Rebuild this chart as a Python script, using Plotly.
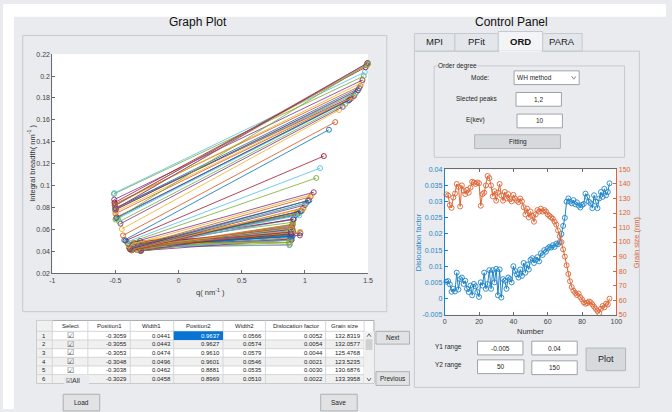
import plotly.graph_objects as go

W, H = 672, 412
FONT = "Liberation Sans, Arial, sans-serif"

# ---------------- fitted peak table (one row per pattern) ----------------
position1 = [-0.3059, -0.3055, -0.3053, -0.3048, -0.3038, -0.3029, -0.302, -0.300, -0.299, -0.297,
             -0.296, -0.305, -0.310, -0.312, -0.308, -0.303, -0.301, -0.298, -0.296, -0.300,
             -0.315, -0.318, -0.306, -0.302, -0.300, -0.297, -0.309, -0.311, -0.303, -0.306,
             -0.300, -0.298, -0.305, -0.314, -0.320, -0.322, -0.325, -0.328, -0.318, -0.330,
             -0.333, -0.326, -0.335, -0.340, -0.338, -0.345, -0.350, -0.348, -0.355, -0.352,
             -0.358, -0.360, -0.356, -0.362, -0.365, -0.368, -0.370, -0.372, -0.375, -0.378,
             -0.380, -0.383, -0.386, -0.390, -0.393, -0.396, -0.400, -0.405, -0.410, -0.420,
             -0.430, -0.440, -0.450, -0.460, -0.470, -0.480, -0.490, -0.495, -0.500, -0.500,
             -0.502, -0.505, -0.503, -0.498, -0.500, -0.505, -0.508, -0.510, -0.512, -0.510,
             -0.508, -0.505, -0.502, -0.500, -0.498, -0.500]
width1 = [0.0441, 0.0443, 0.0474, 0.0496, 0.0462, 0.0458, 0.0403, 0.0439, 0.0471, 0.0415,
          0.0438, 0.0441, 0.0444, 0.0457, 0.0434, 0.0438, 0.0420, 0.0427, 0.0434, 0.0444,
          0.0473, 0.0448, 0.0422, 0.0435, 0.0406, 0.0403, 0.0434, 0.0426, 0.0437, 0.0435,
          0.0463, 0.0408, 0.0474, 0.0453, 0.0434, 0.0465, 0.0432, 0.0448, 0.0461, 0.0411,
          0.0429, 0.0442, 0.0451, 0.0425, 0.0446, 0.0435, 0.0475, 0.0441, 0.0476, 0.0439,
          0.0447, 0.0476, 0.0447, 0.0427, 0.0440, 0.0413, 0.0424, 0.0409, 0.0416, 0.0417,
          0.0417, 0.0422, 0.0421, 0.0433, 0.0434, 0.0456, 0.0471, 0.0474, 0.0486, 0.0499,
          0.0503, 0.0546, 0.0604, 0.0653, 0.0672, 0.0700, 0.0712, 0.0703, 0.0745, 0.0763,
          0.0795, 0.0781, 0.0782, 0.0781, 0.0794, 0.0834, 0.0823, 0.0873, 0.0924, 0.0932,
          0.0845, 0.0820, 0.0818, 0.0789, 0.0790, 0.0691]
position2 = [0.9637, 0.9627, 0.9610, 0.9601, 0.8881, 0.8969, 0.905, 0.892, 0.901, 0.898,
             0.903, 0.884, 0.887, 0.893, 0.889, 0.879, 0.882, 0.886, 0.880, 0.877,
             0.891, 0.895, 0.900, 0.887, 0.884, 0.897, 0.883, 0.894, 0.889, 0.902,
             0.876, 0.899, 0.874, 0.893, 0.890, 0.882, 0.891, 0.896, 0.888, 0.905,
             0.900, 0.894, 0.887, 0.899, 0.893, 0.910, 0.905, 0.915, 0.908, 0.925,
             0.935, 0.930, 0.940, 0.950, 0.955, 0.965, 0.975, 0.985, 0.990, 1.000,
             1.010, 1.015, 1.025, 1.035, 1.045, 1.055, 1.070, 1.090, 1.120, 1.150,
             1.190, 1.240, 1.270, 1.300, 1.320, 1.340, 1.350, 1.360, 1.370, 1.380,
             1.390, 1.400, 1.410, 1.420, 1.430, 1.440, 1.450, 1.456, 1.466, 1.474,
             1.480, 1.488, 1.492, 1.495, 1.497, 1.500]
width2 = [0.0566, 0.0574, 0.0579, 0.0546, 0.0535, 0.0510, 0.0586, 0.0503, 0.0607, 0.0563,
          0.0541, 0.0565, 0.0513, 0.0503, 0.0525, 0.0461, 0.0521, 0.0513, 0.0479, 0.0456,
          0.0587, 0.0540, 0.0606, 0.0503, 0.0507, 0.0586, 0.0502, 0.0627, 0.0550, 0.0647,
          0.0486, 0.0603, 0.0481, 0.0591, 0.0560, 0.0534, 0.0582, 0.0587, 0.0575, 0.0646,
          0.0629, 0.0616, 0.0602, 0.0637, 0.0610, 0.0697, 0.0666, 0.0693, 0.0692, 0.0730,
          0.0755, 0.0745, 0.0742, 0.0746, 0.0728, 0.0768, 0.0769, 0.0796, 0.0792, 0.0823,
          0.0840, 0.0842, 0.0863, 0.0866, 0.0899, 0.0918, 0.0940, 0.1070, 0.1160, 0.1270,
          0.1510, 0.1580, 0.1690, 0.1720, 0.1745, 0.1770, 0.1780, 0.1790, 0.1800, 0.1810,
          0.1820, 0.1840, 0.1855, 0.1870, 0.1890, 0.1910, 0.1940, 0.1964, 0.2000, 0.2036,
          0.2080, 0.2100, 0.2115, 0.2105, 0.2120, 0.2110]
dislocation_factor = [0.0052, 0.0054, 0.0044, 0.0021, 0.0030, 0.0022, 0.0080, 0.0028, 0.0060, 0.0065,
                      0.0045, 0.0055, 0.0030, 0.0020, 0.0040, 0.0010, 0.0045, 0.0038, 0.0020, 0.0005,
                      0.0050, 0.0040, 0.0080, 0.0030, 0.0045, 0.0088, 0.0030, 0.0088, 0.0050, 0.0092,
                      0.0010, 0.0090, 0.0003, 0.0060, 0.0055, 0.0030, 0.0065, 0.0060, 0.0050, 0.0100,
                      0.0085, 0.0075, 0.0065, 0.0090, 0.0070, 0.0110, 0.0080, 0.0105, 0.0090, 0.0120,
                      0.0125, 0.0110, 0.0120, 0.0128, 0.0115, 0.0140, 0.0135, 0.0150, 0.0145, 0.0155,
                      0.0160, 0.0158, 0.0165, 0.0160, 0.0170, 0.0168, 0.0175, 0.0200, 0.0225, 0.0250,
                      0.0300, 0.0310, 0.0300, 0.0295, 0.0305, 0.0292, 0.0298, 0.0288, 0.0282, 0.0290,
                      0.0293, 0.0325, 0.0315, 0.0300, 0.0295, 0.0280, 0.0320, 0.0300, 0.0280, 0.0310,
                      0.0330, 0.0315, 0.0340, 0.0320, 0.0330, 0.0357]
grain_size = [132.8319, 132.0577, 125.4768, 123.5235, 130.6876, 133.3958, 140.0, 138.0, 124.5, 139.0,
              135.5, 133.0, 136.0, 134.0, 137.5, 141.5, 141.0, 140.0, 141.0, 140.5,
              125.0, 133.0, 134.0, 139.0, 145.5, 144.0, 139.0, 131.5, 135.0, 128.5,
              134.0, 140.0, 132.0, 128.5, 134.5, 130.0, 133.0, 129.5, 128.0, 132.5,
              130.0, 128.5, 127.5, 130.0, 128.0, 124.0, 119.0, 123.0, 117.0, 121.0,
              118.0, 114.0, 119.0, 122.0, 121.0, 123.0, 121.0, 122.0, 121.0, 119.0,
              118.0, 117.0, 116.0, 114.0, 112.0, 108.0, 104.0, 100.0, 95.0, 90.0,
              84.0, 78.0, 73.0, 69.0, 66.5, 65.0, 63.5, 64.5, 62.0, 60.5,
              58.5, 57.5, 58.0, 59.0, 58.5, 57.0, 55.5, 54.0, 52.5, 51.0,
              54.0, 56.0, 55.0, 57.5, 57.0, 61.0]
sample_number = list(range(1, len(grain_size) + 1))

# ---------------- ticks and labels ----------------
q_ticks = [-1, -0.5, 0, 0.5, 1, 1.5]
q_tick_text = ["-1", "-0.5", "0", "0.5", "1", "1.5"]
breadth_ticks = [0.02, 0.04, 0.06, 0.08, 0.10, 0.12, 0.14, 0.16, 0.18, 0.20, 0.22]
breadth_tick_text = ["0.02", "0.04", "0.06", "0.08", "0.1", "0.12", "0.14", "0.16", "0.18", "0.2", "0.22"]
number_ticks = [0, 20, 40, 60, 80, 100]
dislocation_ticks = [-0.005, 0, 0.005, 0.01, 0.015, 0.02, 0.025, 0.03, 0.035, 0.04]
dislocation_tick_text = ["-0.005", "0", "0.005", "0.01", "0.015", "0.02", "0.025", "0.03", "0.035", "0.04"]
grain_ticks = [50, 60, 70, 80, 90, 100, 110, 120, 130, 140, 150]

table_headers = ["Select", "Position1", "Width1", "Position2", "Width2", "Dislocation factor", "Grain size"]
tab_names = ["MPI", "PFit", "ORD", "PARA"]

LINE_COLORS = ["#0072BD", "#D95319", "#EDB120", "#7E2F8E", "#77AC30", "#4DBEEE", "#A2142F"]
BLUE = "#1f84c6"
ORANGE = "#dc6436"
BG = "#e9ebee"
BORDER = "#c6cacf"
TXT = "#1e1e1e"
AXIS = "#6b6b6b"


def X(px):
    return px / W


def Y(py):
    return 1 - py / H


shapes = []
annotations = []


def box(x0, y0, x1, y1, fill=None, line=None, width=1):
    shapes.append(dict(type="rect", xref="paper", yref="paper",
                       x0=X(x0), x1=X(x1), y0=Y(y1), y1=Y(y0),
                       fillcolor=fill or "rgba(0,0,0,0)",
                       line=dict(color=line or "rgba(0,0,0,0)", width=width if line else 0),
                       layer="below"))


def hline(x0, x1, y, color=BORDER, width=1):
    shapes.append(dict(type="line", xref="paper", yref="paper", x0=X(x0), x1=X(x1),
                       y0=Y(y), y1=Y(y), line=dict(color=color, width=width), layer="below"))


def vline(x, y0, y1, color=BORDER, width=1):
    shapes.append(dict(type="line", xref="paper", yref="paper", x0=X(x), x1=X(x),
                       y0=Y(y0), y1=Y(y1), line=dict(color=color, width=width), layer="below"))


def chevron(xc, yc, half=2.5, down=True, color="#777"):
    d = 1.5 if down else -1.5
    path = (f"M {X(xc - half)},{Y(yc - d)} L {X(xc)},{Y(yc + d)} "
            f"L {X(xc + half)},{Y(yc - d)}")
    shapes.append(dict(type="path", xref="paper", yref="paper", path=path,
                       line=dict(color=color, width=1), layer="above"))


def label(x, y, text, size=7, color=TXT, xanchor="center", angle=0, bg=None):
    ann = dict(x=X(x), y=Y(y), xref="paper", yref="paper", text=text, showarrow=False,
               xanchor=xanchor, yanchor="middle", textangle=angle,
               font=dict(size=size, color=color, family=FONT), borderpad=0)
    if bg:
        ann["bgcolor"] = bg
    annotations.append(ann)


fig = go.Figure()

# ---------------- Williamson-Hall lines ----------------
for i in range(len(position1)):
    c = LINE_COLORS[i % len(LINE_COLORS)]
    fig.add_trace(go.Scatter(
        x=[position1[i], position2[i]], y=[width1[i], width2[i]],
        mode="lines+markers", xaxis="x", yaxis="y", cliponaxis=False,
        line=dict(color=c, width=0.8),
        marker=dict(symbol="circle-open", size=5, color=c, line=dict(width=0.9)),
        showlegend=False, hoverinfo="skip"))

# ---------------- dislocation factor / grain size vs number ----------------
fig.add_trace(go.Scatter(
    x=sample_number, y=dislocation_factor, mode="lines+markers", xaxis="x2", yaxis="y2",
    cliponaxis=False, line=dict(color=BLUE, width=1),
    marker=dict(symbol="circle-open", size=5, color=BLUE, line=dict(width=0.9)),
    showlegend=False))
fig.add_trace(go.Scatter(
    x=sample_number, y=grain_size, mode="lines+markers", xaxis="x2", yaxis="y3",
    cliponaxis=False, line=dict(color=ORANGE, width=1),
    marker=dict(symbol="circle-open", size=5, color=ORANGE, line=dict(width=0.9)),
    showlegend=False))

# ---------------- window chrome ----------------
box(0, 0, W, 13, fill="white")
box(0, 0, 11, H, fill="white")

label(198, 18, "Graph Plot", size=12, color="#111")
box(20, 32, 389, 313, line=BORDER)

label(515, 18, "Control Panel", size=12, color="#111")

# tabs
tab_edges = [417, 458, 502, 547, 587]
for k, name in enumerate(tab_names):
    x0, x1 = tab_edges[k], tab_edges[k + 1]
    if name == "ORD":
        box(x0, 28, x1, 48, fill="#f3f4f6", line=BORDER)
        label((x0 + x1) / 2, 38, "<b>ORD</b>", size=9.5, color="#111")
    else:
        box(x0, 30, x1, 48, fill="#e3e6ea", line=BORDER)
        label((x0 + x1) / 2, 38, name, size=9.5, color="#222")
box(417, 48, 645, 390, line=BORDER)
hline(503, 546, 48, color="#f3f4f6", width=1.5)

# order degree group
box(437, 63, 630, 156, line=BORDER)
label(440, 63, "Order degree", size=6.5, xanchor="left", bg=BG)
label(483, 75, "Mode:", size=6.5)
box(518, 68, 584, 82, fill="white", line="#9fa3a8")
label(520, 75, "WH method", size=6.5, xanchor="left")
chevron(578.5, 75, half=2.2, down=True, color="#888")
label(480, 97, "Slected peaks", size=6.5)
box(520, 90, 566, 104, fill="white", line="#9fa3a8")
label(543, 97, "1,2", size=6.5)
label(479, 118, "E(kev)", size=6.5)
box(521, 112, 567, 126, fill="white", line="#9fa3a8")
label(544, 119, "10", size=6.5)
box(478, 133, 565, 147, fill="#d7dadd", line="#b2b6ba")
label(521.5, 140, "Fitting", size=6.5)

# range inputs
label(452, 349, "Y1 range", size=6.5)
label(452, 367, "Y2 range", size=6.5)
box(481, 343, 527, 357, fill="white", line="#9fa3a8")
label(504, 350, "-0.005", size=6.5)
box(536, 343, 582, 357, fill="white", line="#9fa3a8")
label(559, 350, "0.04", size=6.5)
box(481, 362, 528, 376, fill="white", line="#9fa3a8")
label(504.5, 369, "50", size=6.5)
box(536, 363, 582, 377, fill="white", line="#9fa3a8")
label(559, 370, "150", size=6.5)
box(591, 350, 631, 373, fill="#d7dadd", line="#b2b6ba")
label(611, 361, "Plot", size=9)

# ---------------- data table ----------------
col_edges = [34, 50, 86, 129, 173, 223, 266, 327, 366]
tbl_top, hdr_bot, row_h = 322, 333, 8.8
n_rows = 6
tbl_bot = hdr_bot + n_rows * row_h
box(34, tbl_top, 376, tbl_bot, fill="white", line="#a9adb2")
box(34, tbl_top, 50, tbl_bot, fill="#f0f0f0")
for r in range(n_rows):
    y0 = hdr_bot + r * row_h
    if r % 2 == 1:
        box(50, y0, 366, y0 + row_h, fill="#f0f0f0")
    hline(34, 366, y0, color="#d4d6d9")
    label(42, y0 + row_h / 2, str(r + 1), size=6)
for e in col_edges[1:]:
    vline(e, tbl_top, tbl_bot, color="#d4d6d9")
for k, h in enumerate(table_headers):
    label((col_edges[k + 1] + col_edges[k + 2]) / 2, 327.5, h, size=6)

row_cols = [position1, width1, position2, width2, dislocation_factor, grain_size]
for r in range(n_rows):
    yc = hdr_bot + r * row_h + row_h / 2
    if r < n_rows - 1:
        label(68, yc, "☑", size=7.5, color="#555")
    for c, col in enumerate(row_cols):
        right = col_edges[c + 3] - 2
        if r == 0 and c == 2:
            box(col_edges[4], hdr_bot, col_edges[5], hdr_bot + row_h, fill="#0a74d4")
            label(right, yc, f"{col[r]:.4f}", size=6, color="white", xanchor="right")
        else:
            label(right, yc, f"{col[r]:.4f}", size=6, color="#222", xanchor="right")
# scrollbar
box(366, tbl_top + 11, 376, tbl_bot, fill="#f0f0f0")
box(367.5, 341, 374.5, 352, fill="#d0d0d0")
chevron(371, 337, half=2, down=False, color="#666")
chevron(371, 382, half=2, down=True, color="#666")
# select-all check box
box(62, 377, 87, 390, fill=BG)
label(63, 383, "☑All", size=7, color="#333", xanchor="left")

# buttons
for (x0, y0, x1, y1, t) in [(378, 333, 412, 346, "Next"), (378, 374, 412, 388, "Previous"),
                            (61, 397, 98, 414, "Load"), (322, 397, 359, 414, "Save")]:
    box(x0, y0, x1, y1, fill="#e1e2e4", line="#adb0b4")
    label((x0 + x1) / 2, (y0 + min(y1, 412)) / 2 + (1 if y1 > 412 else 0), t, size=6.5)

# axis titles
label(210, 293, "q( nm<sup>-1</sup> )", size=7.5, color="#333")
label(29, 162, "Integral breadth( nm<sup>-1</sup> )", size=7.5, color="#333", angle=-90)
label(535, 333, "Number", size=7.5, color="#333")
label(422, 242, "Dislocation factor", size=7.5, color=BLUE, angle=-90)
label(642, 242, "Grain size (nm)", size=7.5, color=ORANGE, angle=-90)

axis_common = dict(showgrid=False, zeroline=False, showline=True, linewidth=1,
                   ticks="inside", ticklen=3, tickwidth=1)

fig.update_layout(
    width=W, height=H, autosize=False,
    margin=dict(l=0, r=0, t=0, b=0, pad=0),
    paper_bgcolor=BG, plot_bgcolor="white",
    font=dict(family=FONT, size=7, color="#333"),
    showlegend=False,
    xaxis=dict(domain=[X(50), X(370)], range=[-1, 1.5], anchor="y",
               tickvals=q_ticks, ticktext=q_tick_text, linecolor=AXIS, tickcolor=AXIS,
               tickfont=dict(size=7, color="#444"), **axis_common),
    yaxis=dict(domain=[Y(274), Y(51)], range=[0.02, 0.22], anchor="x",
               tickvals=breadth_ticks, ticktext=breadth_tick_text, linecolor=AXIS, tickcolor=AXIS,
               tickfont=dict(size=7, color="#444"), **axis_common),
    xaxis2=dict(domain=[X(447.7), X(621.7)], range=[0, 100], anchor="y2",
                tickvals=number_ticks, linecolor=AXIS, tickcolor=AXIS, mirror="ticks",
                tickfont=dict(size=7, color="#444"), **axis_common),
    yaxis2=dict(domain=[Y(316), Y(168.3)], range=[-0.005, 0.04], anchor="x2",
                tickvals=dislocation_ticks, ticktext=dislocation_tick_text,
                linecolor=BLUE, tickcolor=BLUE, tickfont=dict(size=7, color=BLUE), **axis_common),
    yaxis3=dict(domain=[Y(316), Y(168.3)], range=[50, 150], anchor="x2", overlaying="y2",
                side="right", tickvals=grain_ticks,
                linecolor=ORANGE, tickcolor=ORANGE, tickfont=dict(size=7, color=ORANGE), **axis_common),
    shapes=shapes,
    annotations=annotations,
)

fig.write_html("out.html")
